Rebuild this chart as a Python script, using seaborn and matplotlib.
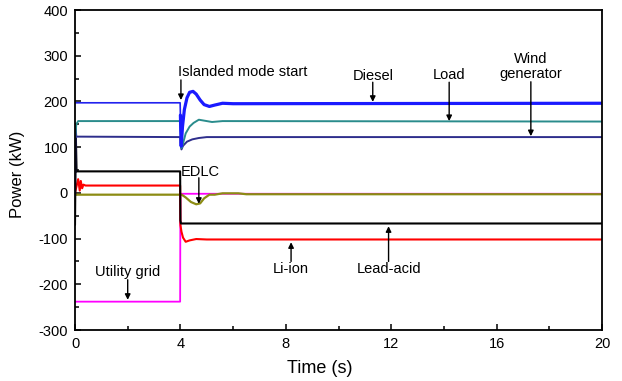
import matplotlib
matplotlib.use("Agg")
import matplotlib.pyplot as plt
import seaborn as sns
from matplotlib.ticker import MultipleLocator

# ---- data ----
time_diesel = [0, 3.99, 4.0, 4.03, 4.08, 4.15, 4.25, 4.35, 4.48, 4.6, 4.75, 4.9, 5.1, 5.3, 5.6, 6.0, 20]
p_diesel    = [197, 197, 170, 102, 145, 182, 208, 220, 222, 216, 203, 193, 189, 192, 196, 195, 196]

time_load = [0, 0.05, 0.12, 3.99, 4.0, 4.04, 4.1, 4.2, 4.35, 4.5, 4.7, 4.9, 5.2, 5.6, 20]
p_load    = [120, 150, 157, 157, 140, 98, 108, 130, 145, 153, 160, 158, 155, 157, 156]

time_wind = [0, 0.02, 0.05, 3.99, 4.0, 4.04, 4.1, 4.25, 4.45, 4.7, 5.0, 20]
p_wind    = [-8, 145, 123, 122, 110, 95, 103, 112, 117, 120, 122, 122]

time_lead = [0, 0.02, 0.03, 0.06, 3.99, 4.0, 4.02, 20]
p_lead    = [-70, 60, 130, 47, 47, -60, -67, -67]

time_li = [0, 0.12, 0.18, 0.22, 0.27, 0.32, 0.4, 3.99, 4.0, 4.04, 4.1, 4.2, 4.35, 4.6, 5.0, 20]
p_li    = [0, 30, 5, 26, 10, 18, 16, 16, -70, -85, -98, -107, -104, -101, -102, -102]

time_edlc = [0, 0.05, 3.99, 4.05, 4.2, 4.4, 4.6, 4.75, 4.9, 5.1, 5.3, 5.6, 6.2, 6.5, 20]
p_edlc    = [-5, -4, -4, -4, -10, -20, -25, -23, -12, -4, -4, -1, -1, -3, -3]

time_grid = [0, 3.99, 4.0, 20]
p_grid    = [-238, -238, -2, -2]

x_ticks = [0, 4, 8, 12, 16, 20]
y_ticks = [-300, -200, -100, 0, 100, 200, 300, 400]

# ---- style ----
sns.set_style("ticks")
plt.rcParams['font.family'] = ['Liberation Sans', 'DejaVu Sans']
plt.rcParams['axes.unicode_minus'] = False
plt.rcParams['text.color'] = 'black'
plt.rcParams['axes.labelcolor'] = 'black'

fig = plt.figure(figsize=(6.22, 3.81), dpi=100)
ax = fig.add_axes([75/622, 1-330/381, 527/622, 320/381])

def draw(t, p, color, lw):
    sns.lineplot(x=t, y=p, ax=ax, color=color, lw=lw, estimator=None, sort=False)

draw(time_grid, p_grid, '#ff00ff', 1.3)
draw(time_edlc, p_edlc, '#8c8c14', 1.6)
draw(time_li, p_li, '#ff0000', 1.5)
draw(time_lead, p_lead, '#000000', 1.5)
draw(time_wind, p_wind, '#2e2e8c', 1.4)
draw(time_load, p_load, '#2a8c8c', 1.4)
draw(time_diesel, p_diesel, '#2222ee', 1.2)
# thicker trace after islanding
post = [(t, p) for t, p in zip(time_diesel, p_diesel) if t >= 4.0]
draw([a for a, b in post], [b for a, b in post], '#1a1aff', 2.3)

ax.set_xlim(0, 20)
ax.set_ylim(-300, 400)
ax.set_xticks(x_ticks)
ax.set_yticks(y_ticks)
ax.xaxis.set_minor_locator(MultipleLocator(2))
ax.yaxis.set_minor_locator(MultipleLocator(50))
ax.tick_params(which='both', direction='in', top=False, right=False, width=1.1,
               labelsize=10.5, colors='black', labelcolor='black')
ax.tick_params(which='major', length=4.5, pad=5)
ax.tick_params(which='minor', length=3)
for s in ax.spines.values():
    s.set_visible(True)
    s.set_linewidth(1.3)
    s.set_color('black')

ax.set_xlabel('Time (s)', fontsize=13)
ax.set_ylabel('Power (kW)', fontsize=12)
ax.xaxis.set_label_coords(0.464, -0.094)
ax.yaxis.set_label_coords(-0.095, 0.4875)

ap = dict(arrowstyle='-|>', color='black', lw=1.0, mutation_scale=8, shrinkA=0, shrinkB=0)
fs = 10.5
ax.annotate('', xy=(4.02, 203), xytext=(4.02, 247), arrowprops=ap)
ax.text(3.92, 265, 'Islanded mode start', fontsize=fs, ha='left', va='center')

ax.annotate('', xy=(11.3, 199), xytext=(11.3, 242), arrowprops=ap)
ax.text(11.3, 256, 'Diesel', fontsize=fs, ha='center', va='center')

ax.annotate('', xy=(14.2, 157), xytext=(14.2, 242), arrowprops=ap)
ax.text(14.2, 257, 'Load', fontsize=fs, ha='center', va='center')

ax.annotate('', xy=(17.3, 124), xytext=(17.3, 243), arrowprops=ap)
ax.text(17.3, 277, 'Wind\ngenerator', fontsize=fs, ha='center', va='center', linespacing=1.05)

ax.annotate('', xy=(4.7, -24), xytext=(4.7, 33), arrowprops=ap)
ax.text(4.0, 46, 'EDLC', fontsize=fs, ha='left', va='center')

ax.annotate('', xy=(2.0, -234), xytext=(2.0, -190), arrowprops=ap)
ax.text(2.0, -173, 'Utility grid', fontsize=fs, ha='center', va='center')

ax.annotate('', xy=(8.2, -108), xytext=(8.2, -150), arrowprops=ap)
ax.text(8.2, -167, 'Li-ion', fontsize=fs, ha='center', va='center')

ax.annotate('', xy=(11.9, -73), xytext=(11.9, -150), arrowprops=ap)
ax.text(11.9, -167, 'Lead-acid', fontsize=fs, ha='center', va='center')

fig.savefig('out.png', dpi=100)
